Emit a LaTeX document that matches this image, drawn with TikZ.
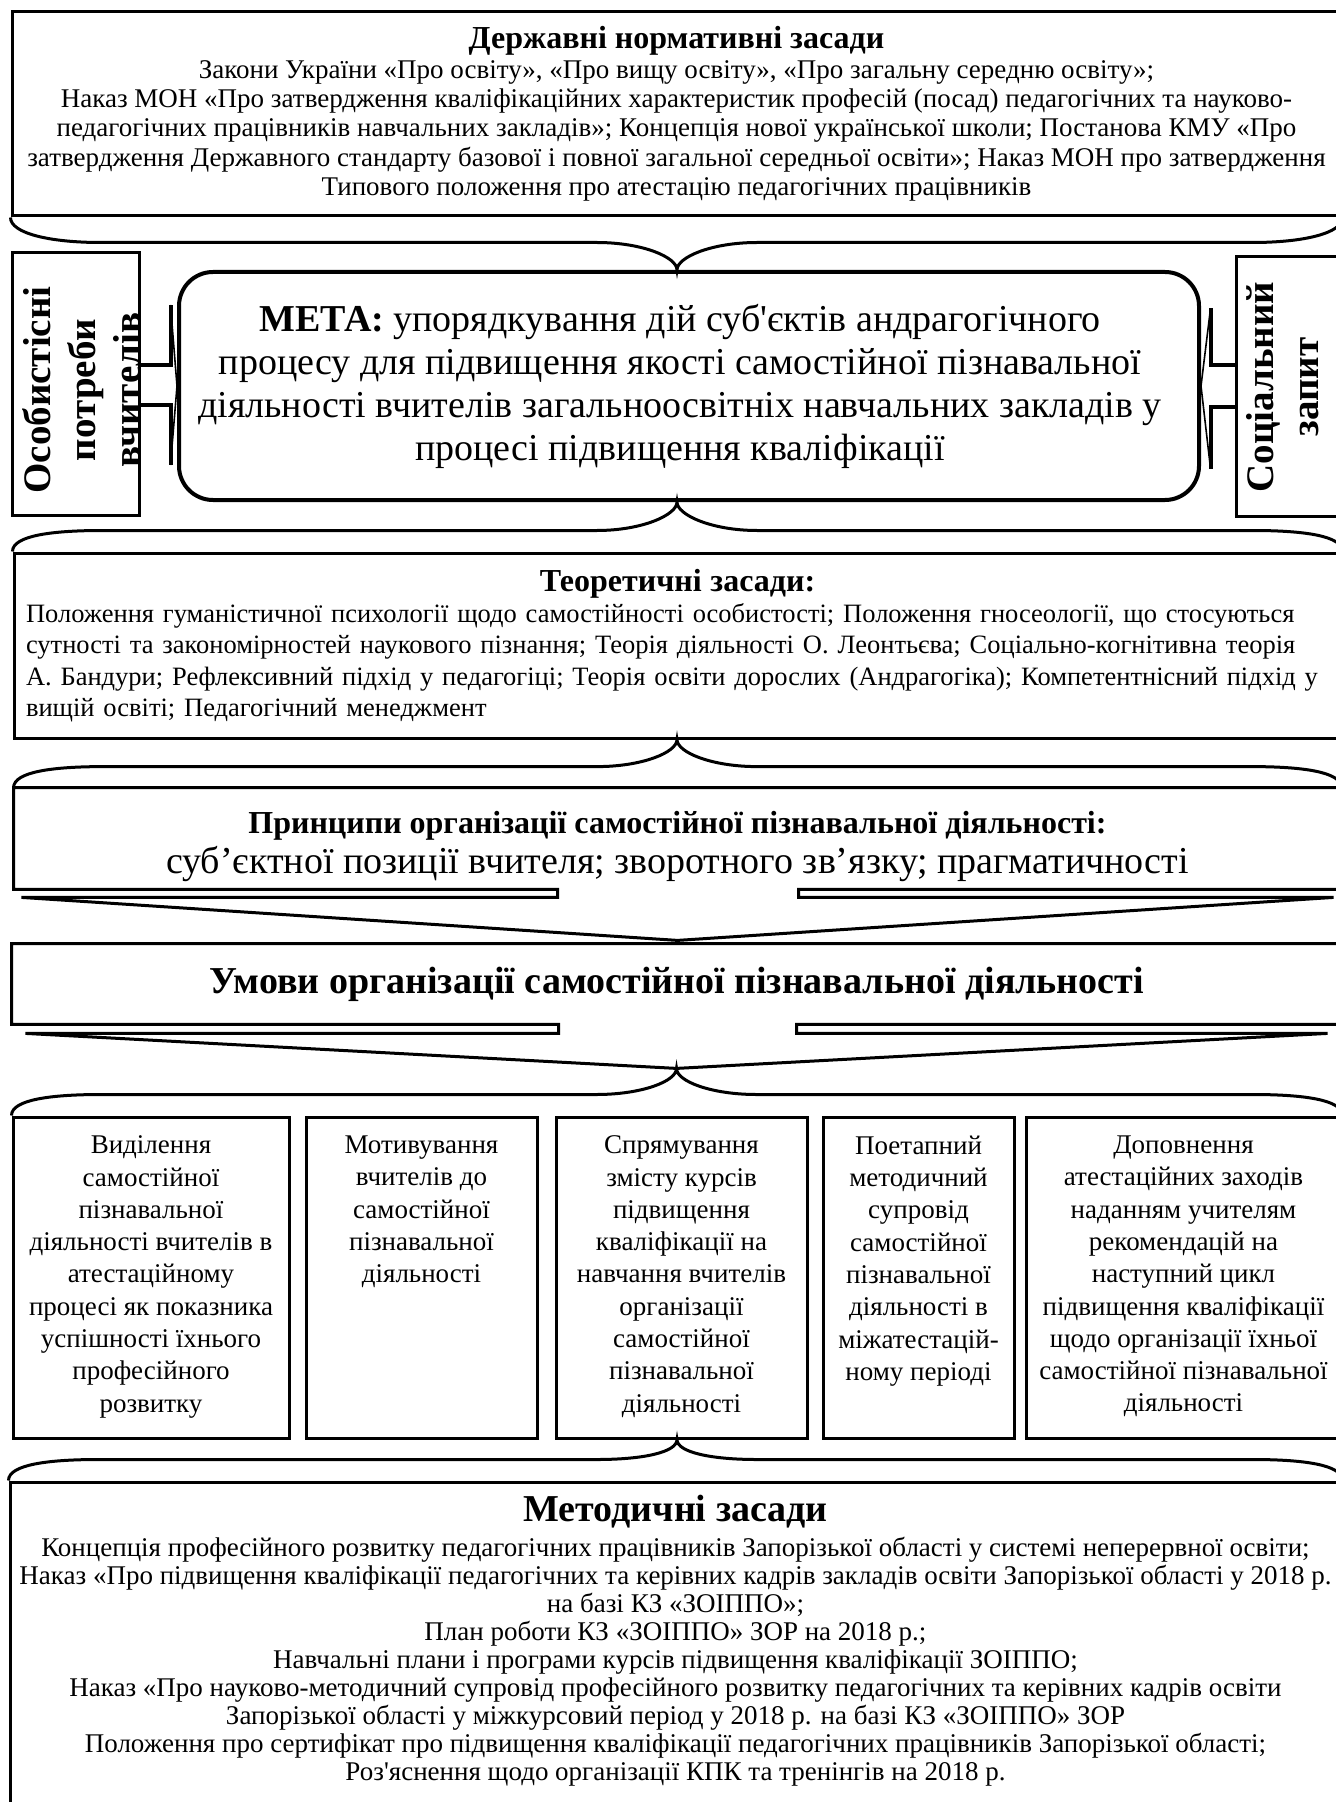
\documentclass[tikz,border=0pt]{standalone}
\usepackage{fontspec}
\setmainfont{Liberation Serif}
\usepackage{tikz}
\usetikzlibrary{calc}
\usetikzlibrary{positioning}

\tikzset{
  frame/.style={draw, line width=1.5pt, inner sep=0pt},
  outline/.style={line width=1.5pt},
  brace/.style={line width=1.5pt},
  plain/.style={inner sep=0pt, align=center, font=\fontsize{13.5}{14.7}\selectfont},
  cell/.style={inner sep=0pt, align=center, font=\fontsize{13.5}{16.15}\selectfont},
  side/.style={inner sep=0pt, align=center, rotate=90, font=\fontsize{19.5}{22.5}\selectfont\bfseries},
}

\begin{document}
\begin{tikzpicture}[x=0.5pt, y=-0.5pt]
  \useasboundingbox (0,0) rectangle (1336,1802);
  \clip (0,0) rectangle (1336,1802);
  \coordinate (axis) at (677,0);

  % state documents
  \node[frame, plain, minimum width=664.5pt, minimum height=102pt] (laws) at (676.5,114) {{\fontsize{16}{16}\selectfont\bfseries Державні нормативні засади}\\
    Закони України «Про освіту», «Про вищу освіту», «Про загальну середню освіту»;\\
    Наказ МОН «Про затвердження кваліфікаційних характеристик професій (посад) педагогічних та науково-\\
    педагогічних працівників навчальних закладів»; Концепція нової української школи; Постанова КМУ «Про\\
    затвердження Державного стандарту базової і повної загальної  середньої освіти»; Наказ МОН про затвердження\\
    Типового  положення  про  атестацію педагогічних  працівників};

  % goal and the two inputs
  \node[frame, line width=2pt, rounded corners=17pt, minimum width=510pt, minimum height=114pt] (meta) at (689,386) {};
  \node[plain, font=\fontsize{19}{21.5}\selectfont] (metatext) at (680,386) {\textbf{МЕТА:} упорядкування дій суб\textquotesingle єктів андрагогічного\\
    процесу для підвищення якості самостійної пізнавальної\\
    діяльності вчителів загальноосвітніх навчальних закладів у\\
    процесі підвищення кваліфікації};

  \node[frame, minimum width=63.25pt, minimum height=131pt] (needs) at (75.75,384) {};
  \node[side] (needstext) at (82,390) {Особистісні\\потреби\\вчителів};
  \node[frame, minimum width=52.5pt, minimum height=129.5pt] (social) at (1288.5,386.5) {};
  \node[side] (socialtext) at (1283,387) {Соціальний\\запит};

  \draw[line width=2pt] ($(needs.east)+(0,-19)$) -- ++(30,0) -- ++(0,-60);
  \draw[line width=0.8pt] ($(needs.east)+(30,-79)$) -- (meta.west) -- ($(needs.east)+(30,81)$);
  \draw[line width=2pt] ($(needs.east)+(30,81)$) -- ++(0,-60) -- ++(-30,0);

  \draw[line width=2pt] ($(social.west)+(0,-21)$) -- ++(-24,0) -- ++(0,-57);
  \draw[line width=0.8pt] ($(social.west)+(-24,-78)$) -- (meta.east) -- ($(social.west)+(-24,82)$);
  \draw[line width=2pt] ($(social.west)+(-24,82)$) -- ++(0,-61) -- ++(24,0);

  % theory
  \node[frame, inner xsep=6pt, text width=651.5pt, minimum height=92.5pt, align=left, font=\fontsize{13.25}{15.7}\selectfont] (theory) at (677.5,645.5) {\makebox[\linewidth]{\fontsize{16}{15.7}\selectfont\bfseries Теоретичні засади:}\\
    Положення гуманістичної психології щодо самостійності особистості; Положення гносеології, що стосуються\\
    сутності та закономірностей наукового пізнання; Теорія діяльності О. Леонтьєва; Соціально-когнітивна теорія\\
    А. Бандури; Рефлексивний підхід у педагогіці; Теорія освіти дорослих (Андрагогіка); Компетентнісний підхід у\\
    вищій освіті; Педагогічний менеджмент};

  % principles, box with arrow
  \node[minimum width=663.5pt, minimum height=50.5pt, inner sep=0pt] (princ) at (677.5,838.5) {};
  \draw[outline] (princ.north west) -- (princ.north east) -- (princ.south east) -- ($(princ.south)+(121,0)$) -- ++(0,8)
    -- ($(princ.south)+(656,8)$) -- ($(princ.south)+(0,51)$) coordinate (princtip) -- ($(princ.south)+(-656,8)$)
    -- ($(princ.south)+(-120,8)$) -- ++(0,-8) -- (princ.south west) -- cycle;
  \node[plain, font=\fontsize{16}{16}\selectfont\bfseries] (princtitle) at ($(princ)+(0,-13)$) {Принципи організації самостійної пізнавальної діяльності:};
  \node[plain, font=\fontsize{19}{20}\selectfont] (princlist) at ($(princ)+(0,25)$) {суб’єктної позиції вчителя; зворотного зв’язку; прагматичності};

  % conditions, box with arrow
  \node[plain, minimum width=664.5pt, minimum height=40pt, font=\fontsize{19}{20}\selectfont\bfseries] (cond) at (676.5,984) {Умови організації самостійної пізнавальної діяльності};
  \draw[outline] (cond.north west) -- (cond.north east) -- (cond.south east) -- ($(cond.south)+(120,0)$) -- ++(0,9)
    -- ($(cond.south)+(651,9)$) -- ($(cond.south)+(0,44)$) coordinate (condtip) -- ($(cond.south)+(-651,9)$)
    -- ($(cond.south)+(-118,9)$) -- ++(0,-9) -- (cond.south west) -- cycle;

  % five conditions
  \foreach \n/\x/\w in {c1/151/138pt, c2/421.5/115.5pt, c3/681.5/125.5pt, c4/918.5/95.5pt, c5/1183.5/157.5pt}
    \node[frame, minimum width=\w, minimum height=160.5pt] (\n) at (\x,1277.5) {};

  \node[cell, below=10pt of c1.north] (c1text) {Виділення\\самостійної\\пізнавальної\\діяльності вчителів в\\атестаційному\\процесі як показника\\успішності їхнього\\професійного\\розвитку};
  \node[cell, below=10pt of c2.north] (c2text) {Мотивування\\вчителів до\\самостійної\\пізнавальної\\діяльності};
  \node[cell, below=10pt of c3.north] (c3text) {Спрямування\\змісту курсів\\підвищення\\кваліфікації на\\навчання вчителів\\організації\\самостійної\\пізнавальної\\діяльності};
  \node[cell, below=10pt of c4.north] (c4text) {Поетапний\\методичний\\супровід\\самостійної\\пізнавальної\\діяльності в\\міжатестацій-\\ному періоді};
  \node[cell, below=10pt of c5.north] (c5text) {Доповнення\\атестаційних заходів\\наданням учителям\\рекомендацій на\\наступний цикл\\підвищення кваліфікації\\щодо організації їхньої\\самостійної пізнавальної\\діяльності};

  % methodical
  \node[frame, minimum width=665.5pt, minimum height=178pt] (method) at (675.5,1660) {};
  \node[plain, font=\fontsize{19}{22}\selectfont\bfseries, below=7pt of method.north] (methodtitle) {Методичні засади};
  \node[plain, font=\fontsize{13.5}{14}\selectfont, below=4pt of methodtitle] (methodlist) {Концепція професійного розвитку педагогічних працівників Запорізької області у системі неперервної освіти;\\
    Наказ «Про підвищення кваліфікації педагогічних та керівних кадрів закладів освіти Запорізької області у 2018 р.\\
    на базі КЗ «ЗОІППО»;\\
    План роботи КЗ «ЗОІППО» ЗОР на 2018 р.;\\
    Навчальні  плани і програми  курсів підвищення кваліфікації ЗОІППО;\\
    Наказ «Про науково-методичний супровід професійного розвитку педагогічних та керівних кадрів освіти\\
    Запорізької області у міжкурсовий період у 2018 р. на базі КЗ «ЗОІППО» ЗОР\\
    Положення про сертифікат про підвищення кваліфікації педагогічних працівників Запорізької області;\\
    Роз\textquotesingle яснення щодо організації КПК та тренінгів на 2018 р.};

  % braces
  \path (axis |- meta.north) coordinate (goaltop) (axis |- meta.south) coordinate (goalbot)
    (axis |- theory.south) coordinate (theorybot) (axis |- c3.south) coordinate (cellsbot);

  \draw[brace] (laws.south west) .. controls +(0,16) and +(-50,0) .. ($(laws.south west)+(90,25)$)
    -- ($(goaltop |- laws.south west)+(-80,25)$) .. controls +(45,0) and +(0,-13) .. (goaltop)
    .. controls +(0,-13) and +(-45,0) .. ($(goaltop |- laws.south west)+(80,25)$)
    -- ($(laws.south east)+(-90,25)$) .. controls +(50,0) and +(0,16) .. (laws.south east);

  \foreach \t/\l/\r in {goalbot/theory.north west/theory.north east, theorybot/princ.north west/princ.north east,
      condtip/c1.north west/c5.north east, cellsbot/method.north west/method.north east}
    \draw[brace] (\l) .. controls +(0,-16) and +(-50,0) .. ($(\l)+(90,-21)$)
      -- ($(\t |- \l)+(-80,-21)$) .. controls +(45,0) and +(0,13) .. (\t)
      .. controls +(0,13) and +(-45,0) .. ($(\t |- \l)+(80,-21)$)
      -- ($(\r)+(-90,-21)$) .. controls +(50,0) and +(0,-16) .. (\r);
\end{tikzpicture}
\end{document}
